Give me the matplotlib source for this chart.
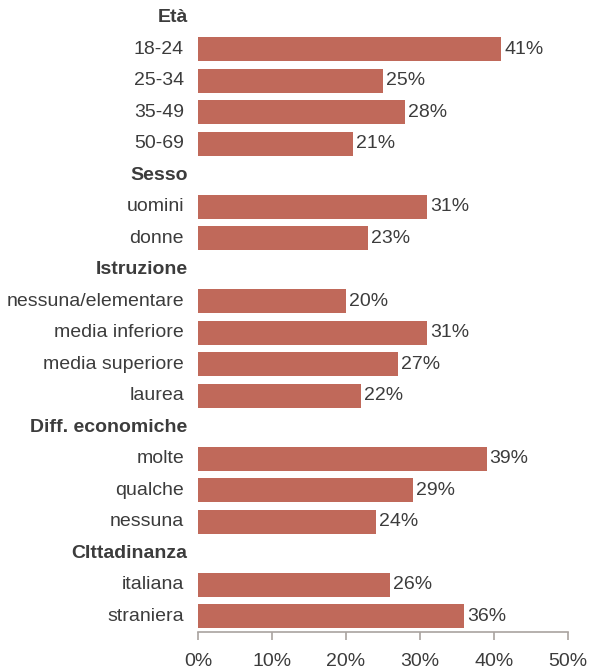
import matplotlib
matplotlib.use("Agg")
import matplotlib.pyplot as plt

plt.rcParams['font.family'] = ['Liberation Sans', 'DejaVu Sans']

# groups of categories with their percentages
groups = ["Età", "Sesso", "Istruzione", "Diff. economiche", "CIttadinanza"]
labels = [
    ["18-24", "25-34", "35-49", "50-69"],
    ["uomini", "donne"],
    ["nessuna/elementare", "media inferiore", "media superiore", "laurea"],
    ["molte", "qualche", "nessuna"],
    ["italiana", "straniera"],
]
values = [
    [41, 25, 28, 21],
    [31, 23],
    [20, 31, 27, 22],
    [39, 29, 24],
    [26, 36],
]
ticks = [0, 10, 20, 30, 40, 50]

bar_color = "#c0695a"
text_color = "#3c3c3c"
fs = 14

fig = plt.figure(figsize=(5.91, 6.70), dpi=100)
ax = fig.add_axes([198 / 591, 1 - 632 / 670, 370 / 591, 630 / 670])

row = 0
for g, labs, vals in zip(groups, labels, values):
    ax.text(-1.4, row, g, ha="right", va="center", fontsize=fs,
            fontweight="bold", color=text_color)
    row += 1
    for lab, v in zip(labs, vals):
        ax.barh(row, v, height=0.76, color=bar_color)
        ax.text(-1.9, row, lab, ha="right", va="center", fontsize=fs,
                color=text_color)
        ax.text(v + 0.4, row, f"{v}%", ha="left", va="center", fontsize=fs,
                color=text_color)
        row += 1

ax.set_ylim(row - 0.5, -0.5)
ax.set_xlim(0, 50)
ax.set_xticks(ticks)
ax.set_xticklabels([f"{t}%" for t in ticks], fontsize=fs, color=text_color)
ax.set_yticks([])
for side in ["top", "right", "left"]:
    ax.spines[side].set_visible(False)
ax.spines["bottom"].set_color("#a9a3a0")
ax.spines["bottom"].set_linewidth(1.2)
ax.tick_params(axis="x", length=6, width=1.2, color="#a9a3a0", pad=9)

fig.savefig("out.png", dpi=100)
